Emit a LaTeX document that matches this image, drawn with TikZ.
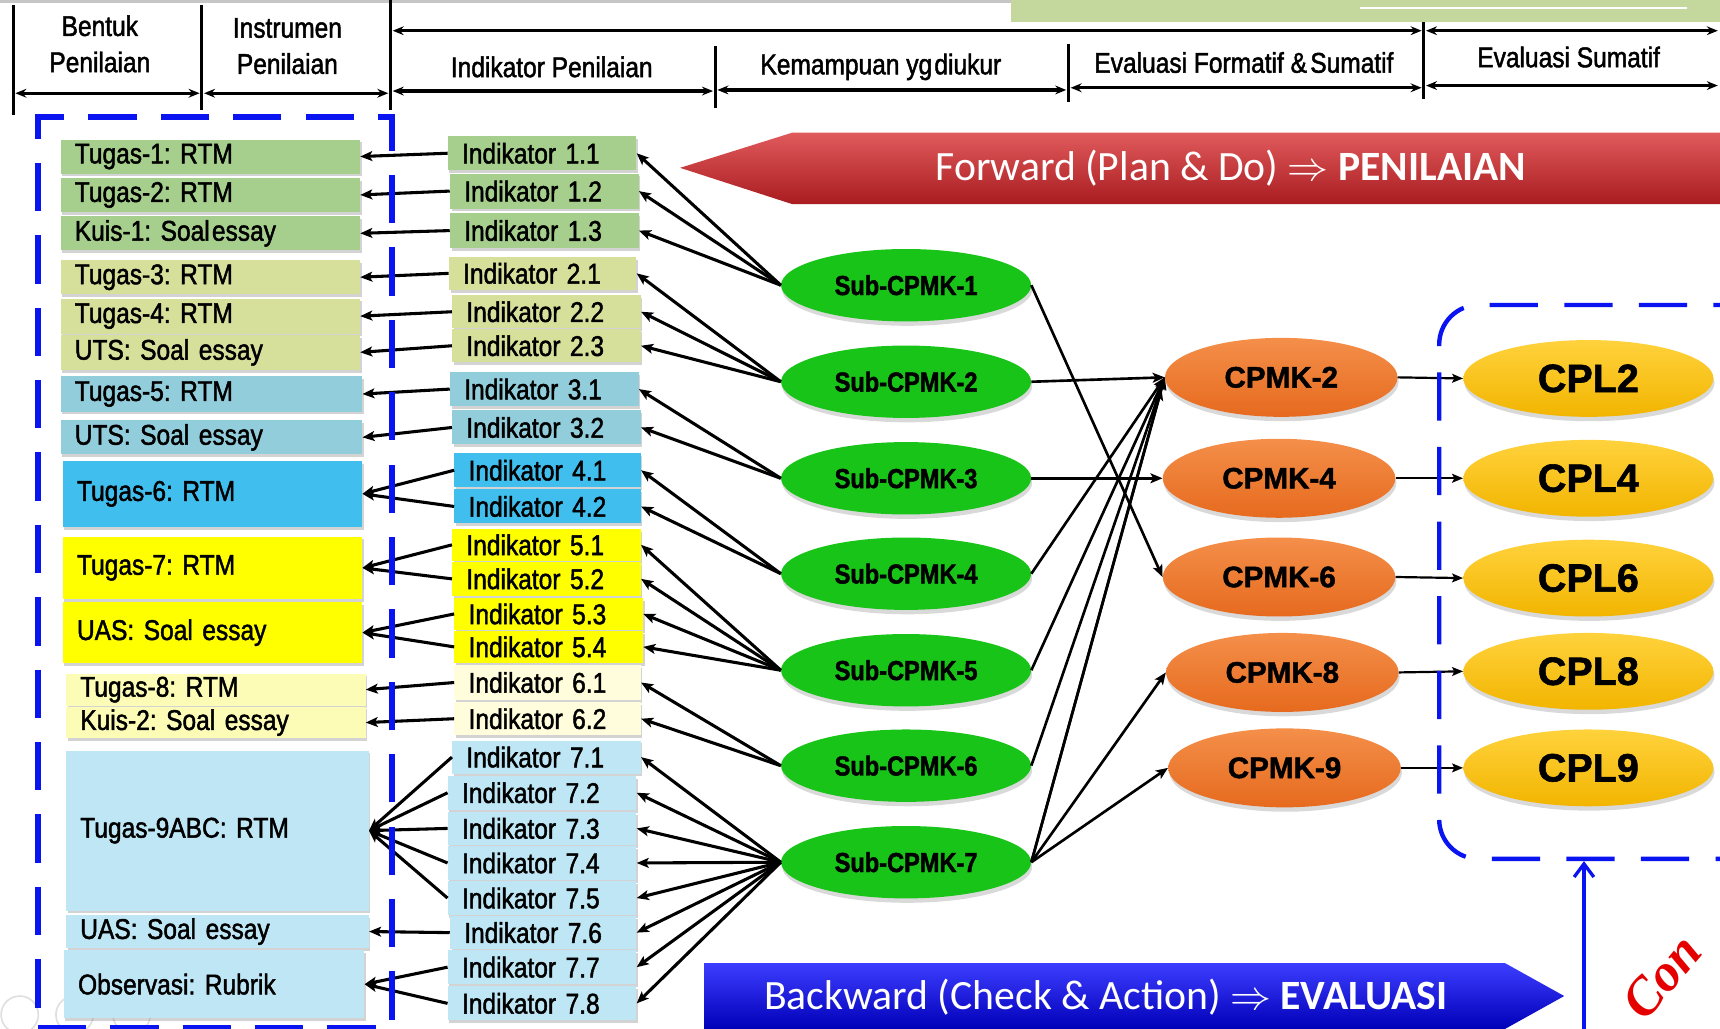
\documentclass[tikz,border=0pt]{standalone}
\usepackage{fontspec}
\usepackage{graphicx}
\setmainfont{Liberation Sans}[FakeStretch=0.86, FakeBold=1.6]
\newfontfamily\widefont{Liberation Sans}[FakeBold=1.5]
\newfontfamily\calfont{Carlito}
\newfontfamily\confont{Liberation Serif}
\usetikzlibrary{shapes.geometric,arrows.meta,shadows}
\frenchspacing
\definecolor{cgreen}{HTML}{A6CF8D}
\definecolor{colive}{HTML}{D7E09B}
\definecolor{cteal}{HTML}{92CDDC}
\definecolor{csky}{HTML}{40BFEF}
\definecolor{cyel}{HTML}{FFFF00}
\definecolor{cpale}{HTML}{FCFCB6}
\definecolor{cpaler}{HTML}{FFFDDC}
\definecolor{clblue}{HTML}{BEE6F5}
\definecolor{subg}{HTML}{19C419}
\definecolor{cpmkT}{HTML}{F48F4A}
\definecolor{cpmkB}{HTML}{E66A1E}
\definecolor{cplT}{HTML}{FFD23C}
\definecolor{cplB}{HTML}{F2B500}
\definecolor{redT}{HTML}{E05A5C}
\definecolor{redM}{HTML}{CC2A2F}
\definecolor{redB}{HTML}{A91C20}
\definecolor{bluT}{HTML}{3D3DFF}
\definecolor{bluM}{HTML}{0A0AE8}
\definecolor{bluB}{HTML}{0000B8}
\definecolor{dblue}{HTML}{0A14F0}
\definecolor{topgreen}{HTML}{C4D79C}
\newcommand\darr{\scalebox{1.5}{$\Rightarrow$}}
\newcommand\mkbox[7]{%
  \pgfmathsetmacro\mkw{#4-#2}%
  \pgfmathsetmacro\mkh{#5-#3}%
  \pgfmathsetmacro\mktw{#4-#2-26}%
  \node[ibox, fill=#6, anchor=north west, minimum width=\mkw pt, minimum height=\mkh pt, text width=\mktw pt] (#1) at (#2,#3) {#7};}
\begin{document}
\begin{tikzpicture}[x=1pt,y=-1pt,
  ibox/.style={rectangle, inner xsep=13pt, inner ysep=0pt, align=left, text=black,
    font=\fontsize{26}{28}\selectfont,
    drop shadow={shadow xshift=1.5pt,shadow yshift=-2.5pt,opacity=0.35}},
  hdr/.style={align=center, inner sep=0pt, font=\fontsize{26}{33}\selectfont},
  hline/.style={line width=3pt},
  harr/.style={line width=3pt, {Stealth[length=10pt,width=8pt]}-{Stealth[length=10pt,width=8pt]}},
  ell/.style={ellipse, inner sep=0pt, drop shadow={shadow xshift=1pt,shadow yshift=-4pt,opacity=0.3}},
  sub/.style={ell, fill=subg, minimum width=228pt, minimum height=66pt, font=\bfseries\fontsize{25}{28}\selectfont},
  cpmk/.style={ell, top color=cpmkT, bottom color=cpmkB, minimum width=212pt, minimum height=72pt, font=\widefont\bfseries\fontsize{27}{30}\selectfont},
  cpl/.style={ell, top color=cplT, bottom color=cplB, minimum width=228pt, minimum height=70pt, font=\widefont\bfseries\fontsize{36}{40}\selectfont},
  arr/.style={line width=2.8pt, -{Stealth[length=11pt,width=9pt,inset=2.5pt]}},
  arrb/.style={line width=2.4pt, -{Stealth[length=11pt,width=9pt,inset=2.5pt]}},
  arrc/.style={line width=2pt, -{Stealth[length=10pt,width=8pt,inset=2pt]}},
  banner/.style={inner sep=0pt, text=white, font=\calfont\fontsize{38}{40}\selectfont}
]
\useasboundingbox (0,0) rectangle (1568,938);

% slide decoration
\fill[topgreen] (922,0) rectangle (1568,20);
\draw[white, line width=2pt] (1240,7) -- (1538,7);
\fill[gray!45] (0,0) rectangle (922,2.5);
\draw[gray!25, line width=1.5pt] (18,925) circle (17);
\draw[gray!25, line width=1.5pt] (68,925) circle (17);
\draw[gray!25, line width=1.5pt] (120,925) circle (17);

% header
\draw[hline] (12,5) -- (12,105);
\draw[hline] (184,5) -- (184,100);
\draw[hline] (356,0) -- (356,100);
\draw[hline] (652,42) -- (652,98);
\draw[hline] (974,40) -- (974,93);
\draw[hline] (1298,20) -- (1298,90);
\draw[harr] (358,28) -- (1296,28);
\draw[harr] (1300,28) -- (1566,28);
\draw[harr] (14,85) -- (182,85);
\draw[harr] (186,85) -- (354,85);
\draw[harr] (358,83) -- (650,83);
\draw[harr] (654,82) -- (972,82);
\draw[harr] (976,80) -- (1296,80);
\draw[harr] (1300,78) -- (1566,78);
\node[hdr] (h1) at (91,40) {Bentuk\\Penilaian};
\node[hdr] (h2) at (262,42) {Instrumen\\Penilaian};
\node[hdr] (h3) at (503,61) {Indikator Penilaian};
\node[hdr] (h4) at (803,61) {Kemampuan yg\kern2pt diukur};
\node[hdr] (h5) at (1134,57) {Evaluasi Formatif \&\kern3pt Sumatif};
\node[hdr] (h6) at (1430,52) {Evaluasi Sumatif};

% banners
\shade[top color=redT, middle color=redM, bottom color=redB]
  (620,153) -- (722,121) -- (1580,121) -- (1580,186) -- (722,186) -- cycle;
\node[banner] (fwd) at (1122,153) {Forward (Plan \& Do) \darr\ \textbf{PENILAIAN}};
\shade[top color=bluT, middle color=bluM, bottom color=bluB]
  (642,878) -- (1372,878) -- (1426,908) -- (1372,938) -- (642,938) -- cycle;
\node[banner] (bwd) at (1008,909) {Backward (Check \& Action) \darr\ \textbf{EVALUASI}};

% instrument boxes
\mkbox{t1}{55}{127}{328}{158}{cgreen}{Tugas-1: RTM}
\mkbox{t2}{55}{162}{328}{193}{cgreen}{Tugas-2: RTM}
\mkbox{k1}{55}{197}{328}{228}{cgreen}{Kuis-1: Soal\kern2pt essay}
\mkbox{t3}{55}{237}{328}{268}{colive}{Tugas-3: RTM}
\mkbox{t4}{55}{272}{328}{304}{colive}{Tugas-4: RTM}
\mkbox{u1}{55}{305}{328}{337}{colive}{UTS: Soal essay}
\mkbox{t5}{55}{343}{330}{375}{cteal}{Tugas-5: RTM}
\mkbox{u2}{55}{383}{330}{414}{cteal}{UTS: Soal essay}
\mkbox{t6}{57}{420}{330}{480}{csky}{Tugas-6: RTM}
\mkbox{t7}{57}{489}{330}{546}{cyel}{Tugas-7: RTM}
\mkbox{ua1}{57}{549}{330}{604}{cyel}{UAS: Soal essay}
\mkbox{t8}{60}{614}{333}{643}{cpale}{Tugas-8: RTM}
\mkbox{k2}{60}{644}{333}{673}{cpale}{Kuis-2: Soal essay}
\mkbox{t9}{60}{684}{336}{830}{clblue}{Tugas-9ABC: RTM}
\mkbox{ua2}{60}{834}{336}{864}{clblue}{UAS: Soal essay}
\mkbox{ob}{58}{866}{332}{928}{clblue}{Observasi: Rubrik}

% indicator boxes
\mkbox{i11}{408}{124}{580}{155}{cgreen}{Indikator 1.1}
\mkbox{i12}{410}{158}{582}{190}{cgreen}{Indikator 1.2}
\mkbox{i13}{410}{194}{582}{226}{cgreen}{Indikator 1.3}
\mkbox{i21}{409}{234}{580}{264}{colive}{Indikator 2.1}
\mkbox{i22}{412}{269}{584}{299}{colive}{Indikator 2.2}
\mkbox{i23}{412}{300}{584}{330}{colive}{Indikator 2.3}
\mkbox{i31}{410}{339}{582}{370}{cteal}{Indikator 3.1}
\mkbox{i32}{412}{374}{584}{405}{cteal}{Indikator 3.2}
\mkbox{i41}{414}{413}{584}{444}{csky}{Indikator 4.1}
\mkbox{i42}{414}{446}{584}{477}{csky}{Indikator 4.2}
\mkbox{i51}{412}{482}{584}{511}{cyel}{Indikator 5.1}
\mkbox{i52}{412}{512}{584}{543}{cyel}{Indikator 5.2}
\mkbox{i53}{414}{545}{586}{574}{cyel}{Indikator 5.3}
\mkbox{i54}{414}{575}{586}{604}{cyel}{Indikator 5.4}
\mkbox{i61}{414}{606}{584}{638}{cpaler}{Indikator 6.1}
\mkbox{i62}{414}{640}{584}{670}{cpaler}{Indikator 6.2}
\mkbox{i71}{412}{675}{584}{705}{clblue}{Indikator 7.1}
\mkbox{i72}{408}{707}{580}{738}{clblue}{Indikator 7.2}
\mkbox{i73}{408}{740}{580}{770}{clblue}{Indikator 7.3}
\mkbox{i74}{408}{771}{580}{802}{clblue}{Indikator 7.4}
\mkbox{i75}{408}{803}{580}{834}{clblue}{Indikator 7.5}
\mkbox{i76}{410}{835}{580}{865}{clblue}{Indikator 7.6}
\mkbox{i77}{408}{866}{580}{897}{clblue}{Indikator 7.7}
\mkbox{i78}{408}{899}{580}{930}{clblue}{Indikator 7.8}

% sub-CPMK
\node[sub] (s1) at (826,260) {Sub-CPMK-1};
\node[sub] (s2) at (826,348) {Sub-CPMK-2};
\node[sub] (s3) at (826,436) {Sub-CPMK-3};
\node[sub] (s4) at (826,523) {Sub-CPMK-4};
\node[sub] (s5) at (826,611) {Sub-CPMK-5};
\node[sub] (s6) at (826,698) {Sub-CPMK-6};
\node[sub] (s7) at (826,786) {Sub-CPMK-7};

% CPMK
\node[cpmk] (c2) at (1168,344) {CPMK-2};
\node[cpmk] (c4) at (1166,436) {CPMK-4};
\node[cpmk] (c6) at (1166,526) {CPMK-6};
\node[cpmk] (c8) at (1169,613) {CPMK-8};
\node[cpmk] (c9) at (1171,700) {CPMK-9};

% CPL
\node[cpl] (p2) at (1448,345) {CPL2};
\node[cpl] (p4) at (1448,436) {CPL4};
\node[cpl] (p6) at (1448,527) {CPL6};
\node[cpl] (p8) at (1448,612) {CPL8};
\node[cpl] (p9) at (1448,700) {CPL9};

% indicator -> instrument
\draw[arr] (i11.west) -- (t1.east);
\draw[arr] (i12.west) -- (t2.east);
\draw[arr] (i13.west) -- (k1.east);
\draw[arr] (i21.west) -- (t3.east);
\draw[arr] (i22.west) -- (t4.east);
\draw[arr] (i23.west) -- (u1.east);
\draw[arr] (i31.west) -- (t5.east);
\draw[arr] (i32.west) -- (u2.east);
\draw[arr] (i41.west) -- (t6.east);
\draw[arr] (i42.west) -- (t6.east);
\draw[arr] (i51.west) -- (t7.east);
\draw[arr] (i52.west) -- (t7.east);
\draw[arr] (i53.west) -- (ua1.east);
\draw[arr] (i54.west) -- (ua1.east);
\draw[arr] (i61.west) -- (t8.east);
\draw[arr] (i62.west) -- (k2.east);
\foreach \k in {1,...,5} {\draw[arr] (i7\k.west) -- (t9.east);}
\draw[arr] (i76.west) -- (ua2.east);
\draw[arr] (i77.west) -- (ob.east);
\draw[arr] (i78.west) -- (ob.east);

% sub-CPMK -> indicator
\foreach \k in {1,2,3} {\draw[arr] (s1.west) -- (i1\k.east);}
\foreach \k in {1,2,3} {\draw[arr] (s2.west) -- (i2\k.east);}
\foreach \k in {1,2} {\draw[arr] (s3.west) -- (i3\k.east);}
\foreach \k in {1,2} {\draw[arr] (s4.west) -- (i4\k.east);}
\foreach \k in {1,...,4} {\draw[arr] (s5.west) -- (i5\k.east);}
\foreach \k in {1,2} {\draw[arr] (s6.west) -- (i6\k.east);}
\foreach \k in {1,...,8} {\draw[arr] (s7.west) -- (i7\k.east);}

% sub-CPMK -> CPMK
\draw[arrb] (s1.east) -- (c6.west);
\draw[arrb] (s2.east) -- (c2.west);
\draw[arrb] (s3.east) -- (c4.west);
\draw[arrb] (s4.east) -- (c2.west);
\draw[arrb] (s5.east) -- (c2.west);
\draw[arrb] (s6.east) -- (c2.west);
\draw[arrb] (s7.east) -- (c2.west);
\draw[arrb] (s7.east) -- ([shift={(-3pt,-10pt)}]c2.west);
\draw[arrb] (s7.east) -- (c8.west);
\draw[arrb] (s7.east) -- (c9.west);

% CPMK -> CPL
\draw[arrc] (c2.east) -- (p2.west);
\draw[arrc] (c4.east) -- (p4.west);
\draw[arrc] (c6.east) -- (p6.west);
\draw[arrc] (c8.east) -- (p8.west);
\draw[arrc] (c9.east) -- (p9.west);

% dashed frames
\node[draw=dblue, line width=5pt, dash pattern=on 44pt off 22pt, anchor=north west,
  minimum width=323pt, minimum height=830pt, inner sep=0pt] (lframe) at (32,104) {};
\node[draw=dblue, line width=4pt, dash pattern=on 44pt off 24pt, rounded corners=36pt,
  anchor=north west, minimum width=330pt, minimum height=505pt, inner sep=0pt] (rframe) at (1310,276) {};
\coordinate (bstart) at (1444,945);
\draw[dblue, line width=3pt, -{Straight Barb[length=12pt,width=18pt]}] (bstart) -- (bstart |- rframe.south);

% partial red text
\node[rotate=50, anchor=base west, inner sep=0pt, text=red!90!black,
  font=\confont\bfseries\itshape\fontsize{48}{48}\selectfont] (con) at (1500,932) {Con};
\end{tikzpicture}
\end{document}
